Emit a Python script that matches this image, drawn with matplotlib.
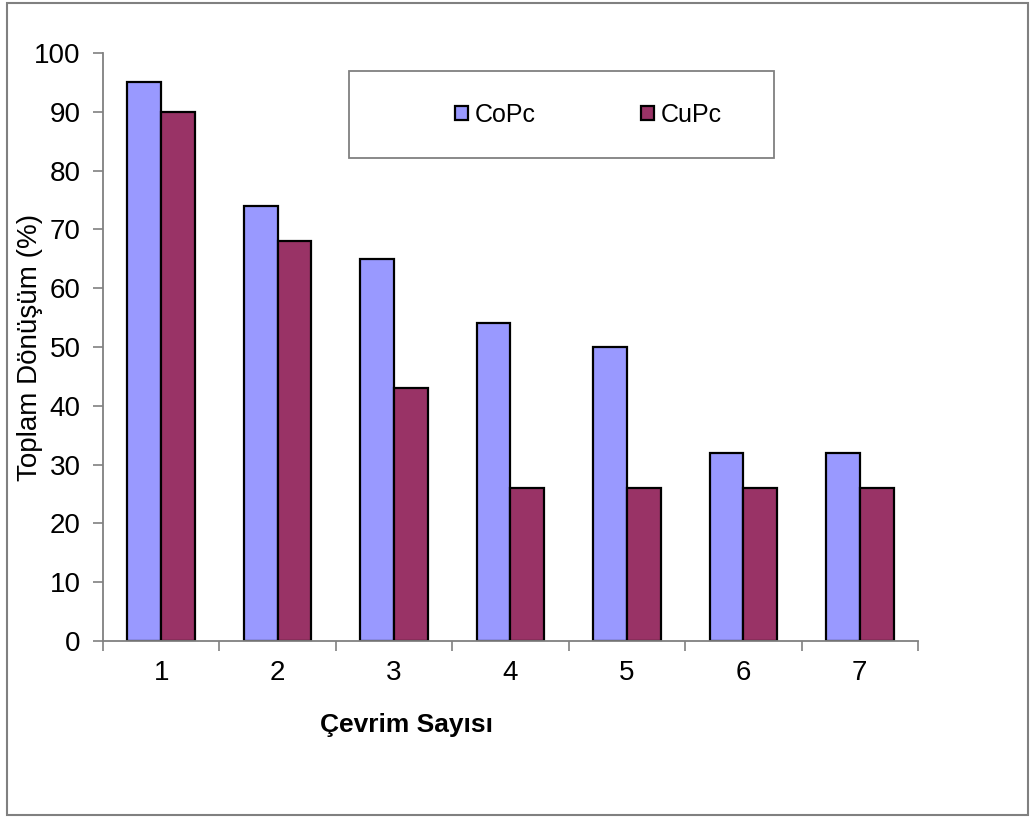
import matplotlib
matplotlib.use("Agg")
import matplotlib.pyplot as plt
from matplotlib.patches import Rectangle
import numpy as np

plt.rcParams['font.family'] = ['Liberation Sans', 'DejaVu Sans']

cycles = ["1", "2", "3", "4", "5", "6", "7"]
copc = [95, 74, 65, 54, 50, 32, 32]
cupc = [90, 68, 43, 26, 26, 26, 26]
series_names = ["CoPc", "CuPc"]
colors = ["#9999FF", "#993366"]
yticks = [0, 10, 20, 30, 40, 50, 60, 70, 80, 90, 100]

W, H = 1031, 818
FS = 20
fig = plt.figure(figsize=(W / 100, H / 100), dpi=100)

# outer chart frame
fig.patches.append(Rectangle((7 / W, 3 / H), 1021 / W, 812 / H, transform=fig.transFigure,
                             fill=False, edgecolor="#808080", linewidth=1.5))
# legend frame
fig.patches.append(Rectangle((349 / W, 1 - 158 / H), 425 / W, 87 / H, transform=fig.transFigure,
                             fill=False, edgecolor="#808080", linewidth=1.3))

ax = fig.add_axes([103 / W, 1 - 641 / H, 815 / W, 588 / H])
x = np.arange(1, len(cycles) + 1)
bw = 0.29
b1 = ax.bar(x - bw / 2, copc, bw, color=colors[0], edgecolor="black", linewidth=1.6, label=series_names[0])
b2 = ax.bar(x + bw / 2, cupc, bw, color=colors[1], edgecolor="black", linewidth=1.6, label=series_names[1])

ax.set_xlim(0.5, len(cycles) + 0.5)
ax.set_ylim(0, 100)
ax.set_yticks(yticks)
ax.set_xticks(x)
ax.set_xticklabels(cycles)
ax.set_xticks(np.arange(0.5, len(cycles) + 1), minor=True)
ax.tick_params(axis="x", which="major", length=0, pad=14, labelsize=FS)
ax.tick_params(axis="x", which="minor", length=7, width=1.2, color="#808080", direction="out")
ax.tick_params(axis="y", length=7, width=1.2, color="#808080", direction="out", pad=9, labelsize=FS)

for s in ["top", "right"]:
    ax.spines[s].set_visible(False)
for s in ["left", "bottom"]:
    ax.spines[s].set_color("#808080")
    ax.spines[s].set_linewidth(1.3)

ax.set_ylabel("Toplam Dönüşüm (%)", fontsize=FS)
ax.yaxis.set_label_coords((43 - 103) / 815, 0.5)
ax.set_xlabel("Çevrim Sayısı", fontsize=19, fontweight="bold")
ax.xaxis.set_label_coords((407 - 103) / 815, -(713 - 641) / 588)

leg = ax.legend(handles=[b1, b2], ncol=2, loc="center left",
                bbox_to_anchor=(455 / W, 1 - 115 / H),
                bbox_transform=fig.transFigure, fontsize=18, frameon=False,
                handlelength=0.52, handleheight=0.52, handletextpad=0.28, columnspacing=4.2,
                borderaxespad=0, borderpad=0)

fig.savefig("out.png", dpi=100)
